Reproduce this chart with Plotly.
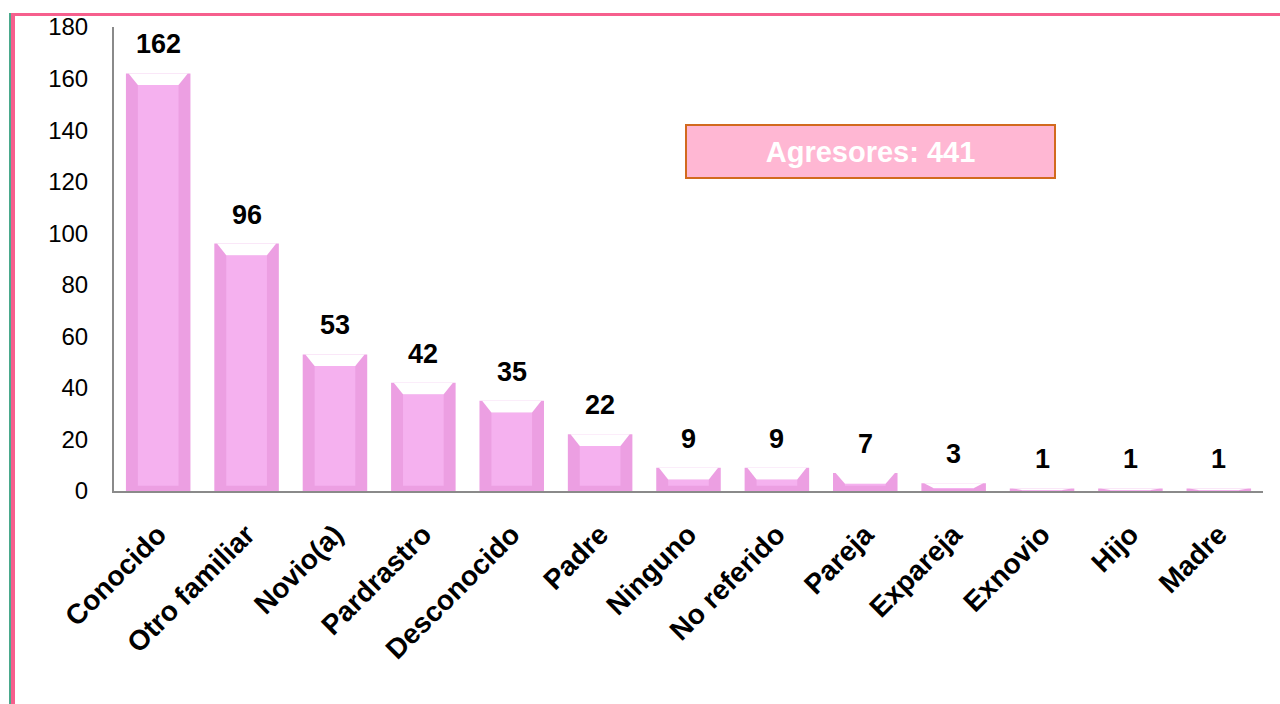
import plotly.graph_objects as go

categories = ["Conocido", "Otro familiar", "Novio(a)", "Pardrastro", "Desconocido", "Padre",
              "Ninguno", "No referido", "Pareja", "Expareja", "Exnovio", "Hijo", "Madre"]
values = [162, 96, 53, 42, 35, 22, 9, 9, 7, 3, 1, 1, 1]
y_ticks = [0, 20, 40, 60, 80, 100, 120, 140, 160, 180]
total_label = "Agresores: 441"

W, H = 1280, 704
L, R, T, B = 114, 17, 27, 213
pw, ph = W - L - R, H - T - B

def px_x(x):
    return (x - L) / pw

def px_y(y):
    return (H - B - y) / ph

idx = list(range(len(categories)))
BAR_W = 0.73
FACE_W = 0.46
notch = [min(4.5, 0.6 * v) for v in values]

fig = go.Figure()
# outer bar (rim)
fig.add_trace(go.Bar(
    x=idx, y=values, width=BAR_W,
    marker=dict(color="#ec9fe2", line=dict(width=0)),
    hoverinfo="skip",
))
# lighter inner face
face_base = [min(2.0, v * 0.3) for v in values]
face_top = [max(v - d, b) for v, d, b in zip(values, notch, face_base)]
fig.add_trace(go.Bar(
    x=idx, y=[t - b for t, b in zip(face_top, face_base)], base=face_base, width=FACE_W,
    marker=dict(color="#f5b1ef", line=dict(width=0)),
    hoverinfo="skip",
))
# white bevel notch on top of each bar
for i, v, d in zip(idx, values, notch):
    fig.add_trace(go.Scatter(
        x=[i - BAR_W / 2 + 0.03, i + BAR_W / 2 - 0.03, i + FACE_W / 2, i - FACE_W / 2, i - BAR_W / 2 + 0.03],
        y=[v, v, v - d, v - d, v],
        mode="lines", fill="toself", fillcolor="white", line=dict(width=0, color="white"),
        hoverinfo="skip",
    ))

fig.update_layout(
    width=W, height=H,
    margin=dict(l=L, r=R, t=T, b=B),
    paper_bgcolor="white", plot_bgcolor="white",
    barmode="overlay", showlegend=False,
    font=dict(family="Liberation Sans, Arial", color="black"),
    xaxis=dict(range=[-0.5, len(categories) - 0.5], tickvals=idx, ticktext=categories,
               showline=True, linecolor="#8a8a8a", linewidth=2, ticks="",
               tickangle=-45, tickfont=dict(size=28, weight="bold"), showgrid=False,
               zeroline=False, ticklabelstandoff=14),
    yaxis=dict(range=[0, 180], tickvals=y_ticks, showline=True, linecolor="#8a8a8a",
               linewidth=2, ticks="", showgrid=False, zeroline=False,
               tickfont=dict(size=24), ticklabelstandoff=19),
    shapes=[
        dict(type="line", xref="paper", yref="paper", x0=px_x(10), x1=px_x(1280),
             y0=px_y(14.5), y1=px_y(14.5), line=dict(color="#f65f8d", width=3)),
        dict(type="line", xref="paper", yref="paper", x0=px_x(10), x1=px_x(10),
             y0=px_y(13), y1=px_y(704), line=dict(color="#4aa98c", width=2)),
        dict(type="line", xref="paper", yref="paper", x0=px_x(13), x1=px_x(13),
             y0=px_y(13), y1=px_y(704), line=dict(color="#f65f8d", width=4)),
    ],
)

annotations = [dict(
    text=f"<b>{total_label}</b>", xref="paper", yref="paper",
    x=px_x(870.5), y=px_y(151.5), xanchor="center", yanchor="middle", showarrow=False,
    font=dict(size=29, color="white"),
    bgcolor="#ffb7d3", bordercolor="#d26a1e", borderwidth=2, borderpad=0,
    width=367, height=51,
)]
for i, v in zip(idx, values):
    annotations.append(dict(
        x=i, y=v, xref="x", yref="y", text=f"<b>{v}</b>", showarrow=False,
        yanchor="bottom", yshift=12, font=dict(size=27, color="black"),
    ))
fig.update_layout(annotations=annotations)

fig.write_html("out.html", config={"displayModeBar": False},
               post_script="document.body.style.margin='0';document.body.style.padding='0';")
